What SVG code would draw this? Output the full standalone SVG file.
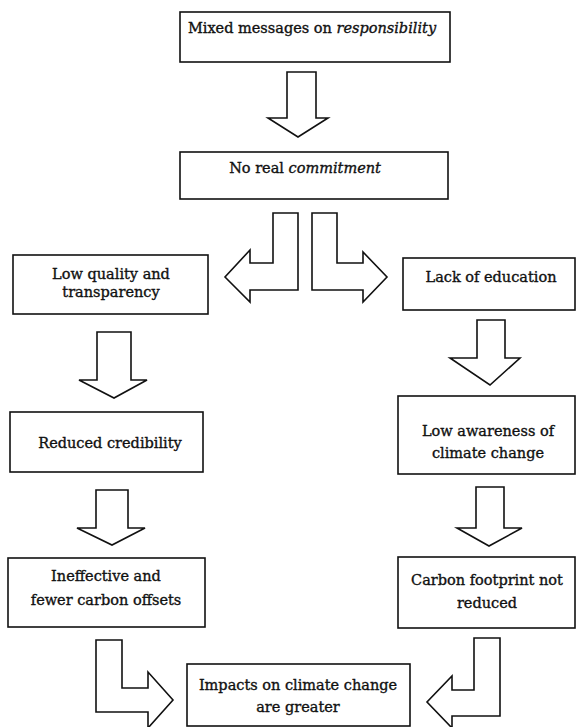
<svg xmlns="http://www.w3.org/2000/svg" width="577" height="727" viewBox="0 0 577 727">
<style>
.box{fill:#fff;stroke:#111;stroke-width:1.6}
.arr{fill:#fff;stroke:#111;stroke-width:1.6;stroke-linejoin:miter}
text{font-family:"DejaVu Serif","Liberation Serif",serif;font-size:14.5px;fill:#111;stroke:#111;stroke-width:0.35;text-anchor:middle}
.it{font-style:italic}
</style>
<rect width="577" height="727" fill="#fff"/>
<g id="connectors">
<polygon class="arr" points="287,72 316,72 316,118 328,118 298,137 268,118 287,118"/>
<polygon class="arr" points="298,213 273,213 273,263 250,263 250,250 225,277 250,302 250,290 298,290"/>
<polygon class="arr" points="312,213 337,213 337,263 363,263 363,252 387,277 363,302 363,290 312,290"/>
<polygon class="arr" points="97,332 131,332 131,380 147,380 114,398 79,380 97,380"/>
<polygon class="arr" points="96,490 128,490 128,528 145,528 112,545 77,528 96,528"/>
<polygon class="arr" points="477,320 505,320 505,358 520,358 490,385 450,358 477,358"/>
<polygon class="arr" points="476,487 504,487 504,528 522,528 489,546 457,528 476,528"/>
<polygon class="arr" points="96,640 122,640 122,688 148,688 148,672 173,700 148,728 148,712 96,712"/>
<polygon class="arr" points="500,638 474,638 474,690 452,690 452,676 427,702 452,728 452,716 500,716"/>
</g>
<g id="n1"><rect class="box" x="180" y="12" width="270" height="50"/><text x="312" y="33">Mixed messages on <tspan class="it">responsibility</tspan></text></g>
<g id="n2"><rect class="box" x="180" y="152" width="268" height="47"/><text x="305" y="173">No real <tspan class="it">commitment</tspan></text></g>
<g id="n3"><rect class="box" x="13" y="255" width="195" height="59"/><text x="111" y="279">Low quality and</text><text x="111" y="297">transparency</text></g>
<g id="n4"><rect class="box" x="403" y="258" width="172" height="52"/><text x="491" y="282">Lack of education</text></g>
<g id="n5"><rect class="box" x="10" y="412" width="193" height="60"/><text x="110" y="448">Reduced credibility</text></g>
<g id="n6"><rect class="box" x="398" y="396" width="177" height="78"/><text x="488" y="436">Low awareness of</text><text x="488" y="458">climate change</text></g>
<g id="n7"><rect class="box" x="8" y="558" width="197" height="69"/><text x="106" y="581">Ineffective and</text><text x="106" y="605">fewer carbon offsets</text></g>
<g id="n8"><rect class="box" x="398" y="557" width="177" height="71"/><text x="487" y="585">Carbon footprint not</text><text x="487" y="608">reduced</text></g>
<g id="n9"><rect class="box" x="187" y="664" width="223" height="62"/><text x="298" y="690">Impacts on climate change</text><text x="298" y="712">are greater</text></g>
</svg>
